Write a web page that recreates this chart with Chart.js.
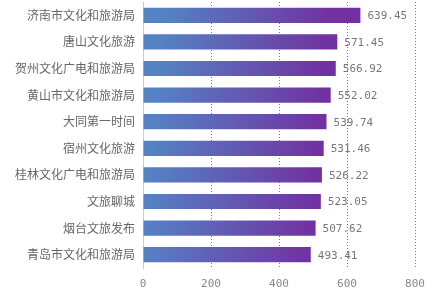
<!DOCTYPE html>
<html>
<head>
<meta charset="utf-8">
<script src="https://cdn.jsdelivr.net/npm/chart.js@4/dist/chart.umd.min.js"></script>
<style>
  html, body { margin: 0; padding: 0; background: #fff; }
  #wrap { width: 426px; height: 294px; }
</style>
</head>
<body>
<div id="wrap"><canvas id="myChart"></canvas></div>
<script>
let categories = ['济南市文化和旅游局', '唐山文化旅游', '贺州文化广电和旅游局', '黄山市文化和旅游局', '大同第一时间',
    '宿州文化旅游', '桂林文化广电和旅游局', '文旅聊城', '烟台文旅发布', '青岛市文化和旅游局'];
let values = [639.45, 571.45, 566.92, 552.02, 539.74, 531.46, 526.22, 523.05, 507.62, 493.41];
let xTicks = [0, 200, 400, 600, 800];

// per-bar diagonal gradient, blue top-left to purple bottom-right
let barGradient = {
    id: 'barGradient',
    beforeDatasetsDraw(chart) {
        let ctx = chart.ctx;
        chart.getDatasetMeta(0).data.forEach(el => {
            let top = el.y - el.height / 2;
            let g = ctx.createLinearGradient(el.base, top, el.x, top + el.height);
            g.addColorStop(0, 'rgb(84,130,196)');
            g.addColorStop(1, 'rgb(114,48,160)');
            el.options.backgroundColor = g;
        });
    }
};

// value labels to the right of the bars
let valueLabels = {
    id: 'valueLabels',
    afterDatasetsDraw(chart) {
        let ctx = chart.ctx;
        ctx.save();
        ctx.font = '11px "DejaVu Sans Mono"';
        ctx.fillStyle = '#777';
        ctx.textBaseline = 'middle';
        chart.getDatasetMeta(0).data.forEach((el, i) => {
            ctx.fillText(values[i].toFixed(2), el.x + 7, el.y + 1);
        });
        ctx.restore();
    }
};

let noPad = s => { s.paddingTop = 0; s.paddingBottom = 0; s.paddingLeft = 0; s.paddingRight = 0; };

let ctx = document.getElementById('myChart').getContext('2d');
let myChart = new Chart(ctx, {
    type: 'bar',
    data: {
        labels: categories,
        datasets: [{
            data: values,
            backgroundColor: 'rgb(100,90,180)',
            borderWidth: 0,
            categoryPercentage: 1,
            barPercentage: 0.57
        }]
    },
    options: {
        indexAxis: 'y',
        responsive: true,
        maintainAspectRatio: false,
        animation: false,
        layout: { padding: { top: 2, right: 11, bottom: 5, left: 7 } },
        plugins: {
            legend: { display: false },
            tooltip: { enabled: false }
        },
        scales: {
            x: {
                min: 0,
                max: 800,
                afterBuildTicks: axis => { axis.ticks = xTicks.map(v => ({ value: v })); },
                afterFit: s => { noPad(s); s.height = 21; },
                border: { display: false, dash: [1, 2] },
                grid: {
                    color: ctx => ctx.tick && ctx.tick.value === 0 ? 'rgba(0,0,0,0)' : '#777',
                    drawTicks: false,
                    lineWidth: 1
                },
                ticks: {
                    color: '#888',
                    font: { family: 'DejaVu Sans Mono', size: 11 },
                    padding: 10
                }
            },
            y: {
                afterFit: noPad,
                border: { display: true, color: '#ccc', width: 1 },
                grid: { display: false, drawTicks: false },
                ticks: {
                    color: '#666',
                    font: { family: 'Noto Sans CJK SC', size: 12 },
                    padding: 8
                }
            }
        }
    },
    plugins: [barGradient, valueLabels]
});
</script>
</body>
</html>
